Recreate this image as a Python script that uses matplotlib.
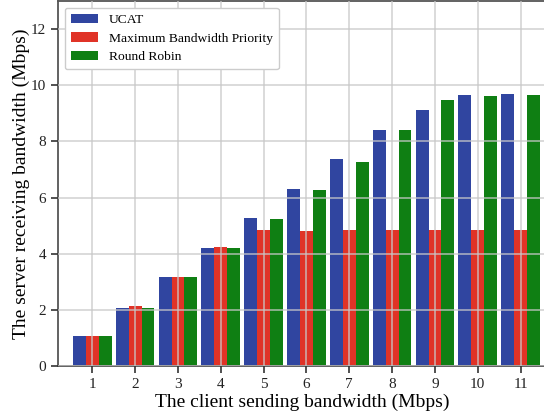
import numpy as np
import matplotlib.pyplot as plt

# Bandwidth measurements (Mbps)
client_bw = [1, 2, 3, 4, 5, 6, 7, 8, 9, 10, 11]
ucat = [1.06, 2.08, 3.16, 4.20, 5.27, 6.30, 7.37, 8.39, 9.10, 9.64, 9.67]
max_bw_priority = [1.06, 2.12, 3.16, 4.24, 4.84, 4.81, 4.83, 4.83, 4.83, 4.83, 4.83]
round_robin = [1.06, 2.08, 3.16, 4.20, 5.23, 6.27, 7.25, 8.39, 9.46, 9.60, 9.64]

plt.rcParams['font.family'] = ['Liberation Serif', 'DejaVu Serif']

fig = plt.figure(figsize=(5.44, 4.17), dpi=100)
ax = fig.add_axes([58 / 544, 51 / 417, 1.005 - 58 / 544, 365 / 417])

x = np.array(client_bw)
w = 0.3
ax.bar(x - w, ucat, w, color='#3045a0', label='UCAT')
ax.bar(x, max_bw_priority, w, color='#e03327', label='Maximum Bandwidth Priority')
ax.bar(x + w, round_robin, w, color='#0f7f13', label='Round Robin')

ax.set_xlim(0.2, 11.61)
ax.set_ylim(0, 13)
ax.set_xticks(client_bw)
ax.set_yticks(range(0, 13, 2))

ax.grid(True, color='#c8c8c8', linewidth=1.1, alpha=0.85)
ax.set_axisbelow(False)

for side in ['left', 'bottom', 'top', 'right']:
    ax.spines[side].set_color('#555555')
    ax.spines[side].set_linewidth(1.3)
ax.tick_params(colors='#222222', labelsize=11, length=5, width=1.2, direction='out')
ax.tick_params(axis='both', color='#333333')

ax.set_xlabel('The client sending bandwidth (Mbps)', fontsize=14, labelpad=2)
ax.set_ylabel('The server receiving bandwidth (Mbps)', fontsize=14, labelpad=1)

leg = ax.legend(loc='upper left', fontsize=9.7, frameon=True, fancybox=True,
                borderpad=0.45, handlelength=2.0, labelspacing=0.45,
                bbox_to_anchor=(0.0, 1.0))
leg.get_frame().set_edgecolor('#cccccc')
leg.get_frame().set_alpha(1.0)

fig.savefig('out.png', dpi=100)
